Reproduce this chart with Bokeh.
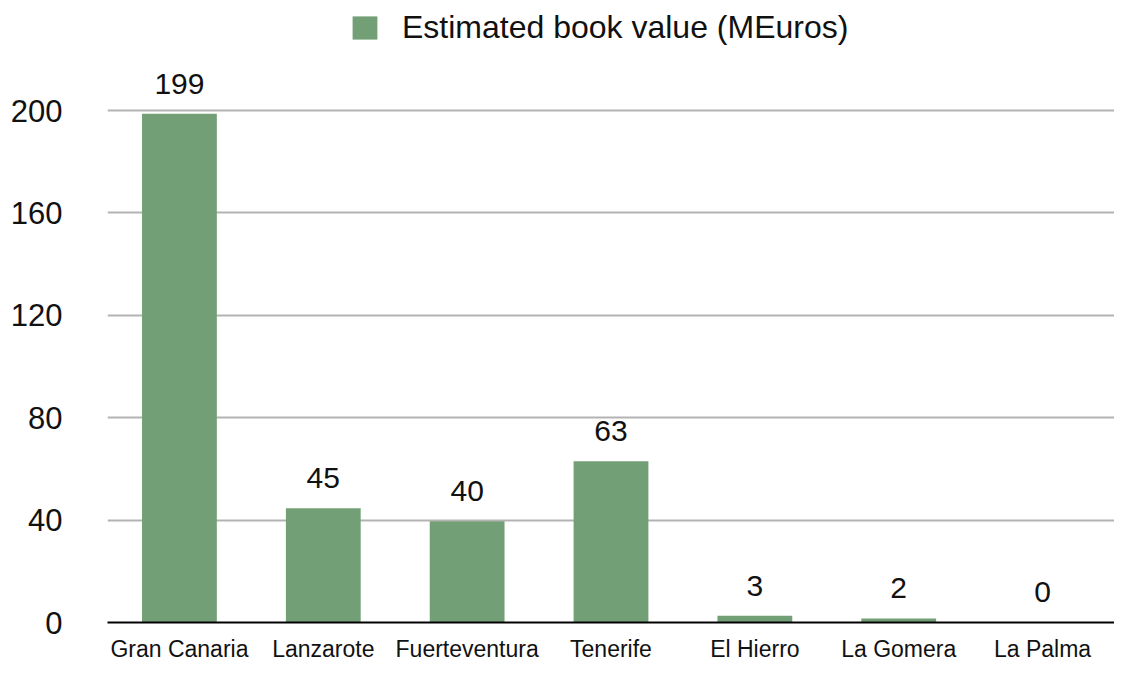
from bokeh.plotting import figure
from bokeh.models import ColumnDataSource, FixedTicker, Legend, LegendItem, Range1d, FactorRange
from bokeh.embed import file_html
from bokeh.resources import INLINE

islands = ["Gran Canaria", "Lanzarote", "Fuerteventura", "Tenerife", "El Hierro", "La Gomera", "La Palma"]
book_value = [198.8, 44.6, 39.6, 63.0, 2.6, 1.6, 0.1]
value_labels = [f"{v:.0f}" for v in book_value]
y_ticks = [0, 40, 80, 120, 160, 200]
series_name = "Estimated book value (MEuros)"

FONT = "Liberation Sans"
GREEN = "#739f76"
TXT = "#111111"

src = ColumnDataSource(dict(x=islands, top=book_value, label=value_labels))

p = figure(
    x_range=FactorRange(*islands, range_padding=0),
    y_range=Range1d(0, 243),
    width=1114, height=664,
    output_backend="svg", toolbar_location=None,
    min_border_left=107, min_border_right=0, min_border_top=0, min_border_bottom=38,
)
p.outline_line_color = None
p.background_fill_color = "white"

bars = p.vbar(x="x", top="top", width=0.52, source=src, fill_color=GREEN, line_color=None)

p.text(x="x", y="top", text="label", source=src, text_align="center", text_baseline="middle",
       y_offset=-30, text_font_size="30px", text_color=TXT, text_font={"value": FONT})

# axes
p.yaxis.ticker = FixedTicker(ticks=y_ticks)
p.yaxis.axis_line_color = None
p.yaxis.major_tick_line_color = None
p.yaxis.major_tick_out = 0
p.yaxis.minor_tick_line_color = None
p.yaxis.minor_tick_out = 0
p.yaxis.major_label_standoff = 45
p.yaxis.major_label_text_font_size = "31px"
p.yaxis.major_label_text_font = FONT
p.yaxis.major_label_text_color = TXT

p.xaxis.axis_line_color = "black"
p.xaxis.axis_line_width = 2
p.xaxis.major_tick_line_color = None
p.xaxis.major_tick_out = 0
p.xaxis.minor_tick_line_color = None
p.xaxis.minor_tick_out = 0
p.xaxis.major_label_standoff = 13
p.xaxis.major_label_text_font_size = "23px"
p.xaxis.major_label_text_font = FONT
p.xaxis.major_label_text_color = TXT

p.xgrid.grid_line_color = None
p.ygrid.grid_line_color = "#b3b3b3"
p.ygrid.grid_line_width = 2

legend = Legend(items=[LegendItem(label=series_name, renderers=[bars])],
                location=(242, 576), orientation="horizontal",
                border_line_color=None, background_fill_alpha=0,
                label_text_font_size="32px", label_text_font=FONT, label_text_color=TXT,
                glyph_width=31, glyph_height=29, label_standoff=22,
                margin=0, padding=4)
p.add_layout(legend)

open("out.html", "w").write(file_html(p, INLINE))
